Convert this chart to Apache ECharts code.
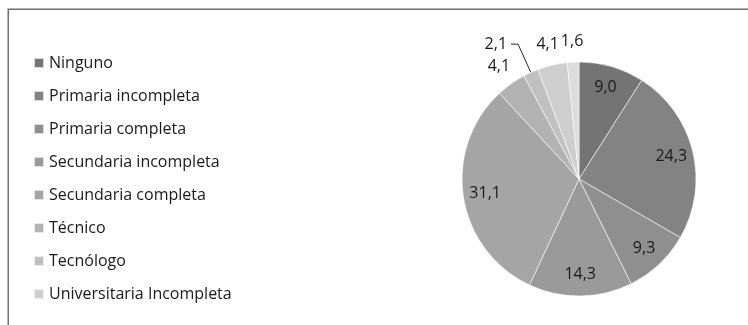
<!DOCTYPE html>
<html>
<head>
<meta charset="utf-8">
<script src="https://cdn.jsdelivr.net/npm/echarts@6/dist/echarts.min.js"></script>
<style>html,body{margin:0;padding:0;background:#fff}#c{width:748px;height:325px}</style>
</head>
<body>
<div id="c"></div>
<script>
// Data
var categories = ['Ninguno','Primaria incompleta','Primaria completa','Secundaria incompleta','Secundaria completa','Técnico','Tecnólogo','Universitaria Incompleta','Universitaria completa'];
var values = [9.0, 24.3, 9.3, 14.3, 31.1, 4.1, 2.1, 4.1, 1.6];
var legendNames = ['Ninguno','Primaria incompleta','Primaria completa','Secundaria incompleta','Secundaria completa','Técnico','Tecnólogo','Universitaria Incompleta'];
// label placement per slice: inner ring, outer ring, or leader line
var labelPlacement = ['in','in','in','in','in','out','line','out','out'];

var colors = ['#747474','#838383','#8f8f8f','#9a9a9a','#a5a5a5','#b2b2b2','#c0c0c0','#cecece','#dcdcdc'];
var FONT = 'Open Sans';
var TXT = '#1a1a1a';
function fmt(p){ return p.value.toFixed(1).replace('.', ','); }

var center = [579, 179];
var R = 117;

var mainData = categories.map(function(n,i){
  var d = {name:n, value:values[i]};
  if (labelPlacement[i] === 'line') {
    d.label = {show:true, position:'outside'};
    d.labelLine = {show:true, length:31, length2:7, lineStyle:{color:'#262626', width:1}};
  }
  return d;
});
function ringData(kind){
  return categories.map(function(n,i){
    return {name:n, value:values[i], label:{show: labelPlacement[i]===kind}};
  });
}

var chart = echarts.init(document.getElementById('c'), null, {renderer:'canvas'});
chart.setOption({
  animation:false,
  color: colors,
  graphic:[{type:'rect', silent:true, shape:{x:8.25, y:9.25, width:900, height:500},
    style:{fill:'none', stroke:'#6f6f6f', lineWidth:1.5}}],
  legend:{
    orient:'vertical', left:28, top:50,
    data: legendNames,
    icon:'rect', itemWidth:10, itemHeight:10, itemGap:17,
    textStyle:{fontFamily:FONT, fontSize:16, color:TXT},
    selectedMode:false
  },
  series:[
    {
      type:'pie', name:'main', center:center, radius:[0,R],
      startAngle:90, clockwise:true, avoidLabelOverlap:false,
      itemStyle:{borderColor:'rgba(255,255,255,0.7)', borderWidth:0.8},
      label:{show:false, formatter:fmt, fontFamily:FONT, fontSize:16, color:TXT, distanceToLabelLine:4},
      labelLine:{show:false},
      emphasis:{disabled:true},
      data: mainData
    },
    {
      type:'pie', name:'inner', center:center, radius:[67,R], silent:true,
      startAngle:90, clockwise:true, avoidLabelOverlap:false,
      itemStyle:{color:'rgba(0,0,0,0)'},
      label:{position:'inside', formatter:fmt, fontFamily:FONT, fontSize:16, color:TXT},
      labelLine:{show:false},
      emphasis:{disabled:true},
      data: ringData('in')
    },
    {
      type:'pie', name:'outer', center:center, radius:[125,145], silent:true,
      startAngle:90, clockwise:true, avoidLabelOverlap:false,
      itemStyle:{color:'rgba(0,0,0,0)'},
      label:{position:'inside', formatter:fmt, fontFamily:FONT, fontSize:16, color:TXT},
      labelLine:{show:false},
      emphasis:{disabled:true},
      data: ringData('out')
    }
  ]
});
</script>
</body>
</html>
